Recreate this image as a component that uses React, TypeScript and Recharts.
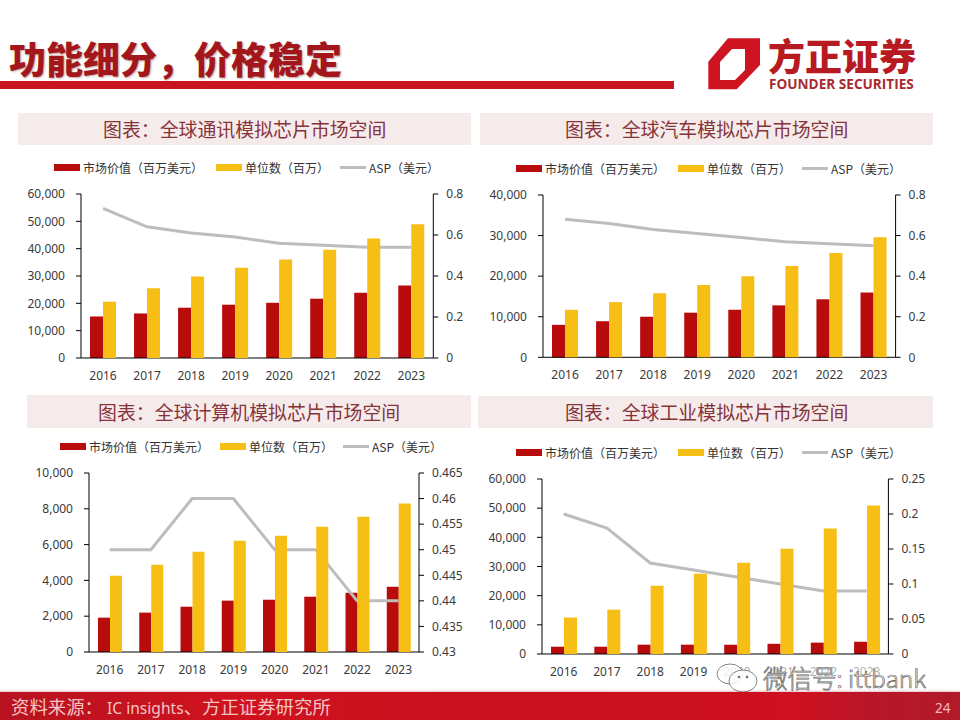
import React from 'react';
import { ComposedChart, Bar, Line, XAxis, YAxis, Legend } from 'recharts';

const years = ['2016', '2017', '2018', '2019', '2020', '2021', '2022', '2023'];

// 通讯
const commValue = [15200, 16300, 18400, 19500, 20200, 21700, 23900, 26500];
const commUnits = [20600, 25500, 29800, 33000, 36000, 39600, 43700, 48900];
const commAsp = [0.73, 0.64, 0.61, 0.59, 0.56, 0.55, 0.54, 0.54];

// 汽车
const autoValue = [8000, 8900, 10000, 11000, 11700, 12800, 14300, 16000];
const autoUnits = [11700, 13600, 15800, 17800, 20000, 22500, 25700, 29600];
const autoAsp = [0.68, 0.66, 0.63, 0.61, 0.59, 0.57, 0.56, 0.55];

// 计算机
const pcValue = [1920, 2200, 2530, 2870, 2920, 3090, 3310, 3650];
const pcUnits = [4260, 4880, 5600, 6220, 6500, 7000, 7560, 8290];
const pcAsp = [0.45, 0.45, 0.46, 0.46, 0.45, 0.45, 0.44, 0.44];

// 工业
const indValue = [2500, 2500, 3200, 3200, 3200, 3500, 3900, 4200];
const indUnits = [12500, 15200, 23400, 27500, 31300, 36100, 43000, 50900];
const indAsp = [0.2, 0.18, 0.13, 0.12, 0.11, 0.1, 0.09, 0.09];

const seriesNames = ['市场价值（百万美元）', '单位数（百万）', 'ASP（美元）'];

const commLeftTicks = [0, 10000, 20000, 30000, 40000, 50000, 60000];
const autoLeftTicks = [0, 10000, 20000, 30000, 40000];
const pcLeftTicks = [0, 2000, 4000, 6000, 8000, 10000];
const indLeftTicks = [0, 10000, 20000, 30000, 40000, 50000, 60000];

const commRightTicks = [0, 0.2, 0.4, 0.6, 0.8];
const autoRightTicks = [0, 0.2, 0.4, 0.6, 0.8];
const pcRightTicks = [0.43, 0.435, 0.44, 0.445, 0.45, 0.455, 0.46, 0.465];
const indRightTicks = [0, 0.05, 0.1, 0.15, 0.2, 0.25];

const SANS = '"Noto Sans", "Noto Sans CJK SC", sans-serif';
const CJK = '"Noto Sans CJK SC", "Noto Sans", sans-serif';

const RED = '#B80C0C';
const YELLOW = '#F7BE16';
const GREY = '#BDBDBD';
const TICK_COLOR = '#3A3A3A';

const makeRows = (value: number[], units: number[], asp: number[]) =>
  years.map((year, i) => ({ year, value: value[i], units: units[i], asp: asp[i] }));

function ChartLegend({ payload, offsets }: any) {
  // series are listed in the reference's order, whatever order they are painted in
  const items = [...(payload || [])].sort((a: any, b: any) => seriesNames.indexOf(a.value) - seriesNames.indexOf(b.value));
  return (
    <div style={{ position: 'relative', height: 14, width: 400, fontFamily: CJK, fontSize: 12, color: '#333' }}>
      {items.map((entry: any, i: number) => {
        const isLine = entry.type === 'line';
        return (
          <div key={entry.value} style={{ position: 'absolute', left: offsets[i], top: 0, height: 14, display: 'flex', alignItems: 'center', whiteSpace: 'nowrap' }}>
            <span style={{ display: 'inline-block', width: 26, height: isLine ? 3 : 7, background: entry.color, marginRight: 3 }} />
            <span>{entry.value}</span>
          </div>
        );
      })}
    </div>
  );
}

interface PanelProps {
  title: string;
  band: [number, number, number, number];
  titleX: number;
  axisLeft: number;
  axisRight: number;
  top: number;
  bottom: number;
  barSize: number;
  legendX: number;
  legendY: number;
  legendOffsets: number[];
  value: number[];
  units: number[];
  asp: number[];
  leftTicks: number[];
  rightTicks: number[];
}

function Panel(p: PanelProps) {
  const chartLeft = p.axisLeft - 70;
  const chartTop = p.top - 40;
  const leftWidth = 70;
  const rightWidth = 50;
  const width = p.axisRight - p.axisLeft + leftWidth + rightWidth;
  const height = p.bottom - p.top + 40 + 32;
  const rightDomain = [p.rightTicks[0], p.rightTicks[p.rightTicks.length - 1]];
  const leftDomain = [p.leftTicks[0], p.leftTicks[p.leftTicks.length - 1]];
  return (
    <>
      <div style={{ position: 'absolute', left: p.band[0], top: p.band[1], width: p.band[2], height: p.band[3], background: '#F6EBEB' }} />
      <div style={{ position: 'absolute', left: p.titleX, top: p.band[1], height: p.band[3], lineHeight: `${p.band[3]}px`, fontFamily: CJK, fontSize: 18.9, color: '#86333A', whiteSpace: 'nowrap' }}>
        {p.title}
      </div>
      <div style={{ position: 'absolute', left: chartLeft, top: chartTop }}>
        <ComposedChart
          width={width}
          height={height}
          data={makeRows(p.value, p.units, p.asp)}
          margin={{ top: 26, right: 0, bottom: 0, left: 0 }}
          barGap={0}
          barSize={p.barSize}
        >
          <XAxis
            dataKey="year"
            height={32}
            axisLine={{ stroke: '#000' }}
            tickLine={false}
            tickMargin={7}
            interval={0}
            tick={{ fontSize: 12, fontFamily: SANS, fill: TICK_COLOR }}
          />
          <YAxis
            yAxisId="left"
            width={leftWidth}
            domain={leftDomain}
            ticks={p.leftTicks}
            interval={0}
            axisLine={{ stroke: '#000' }}
            tickLine={{ stroke: '#000' }}
            tickSize={5}
            tickMargin={11}
            tickFormatter={(v: number) => v.toLocaleString('en-US')}
            tick={{ fontSize: 12, fontFamily: SANS, fill: TICK_COLOR }}
          />
          <YAxis
            yAxisId="right"
            orientation="right"
            width={rightWidth}
            domain={rightDomain}
            ticks={p.rightTicks}
            interval={0}
            axisLine={{ stroke: '#000' }}
            tickLine={{ stroke: '#000' }}
            tickSize={5}
            tickMargin={8}
            tickFormatter={(v: number) => String(v)}
            tick={{ fontSize: 12, fontFamily: SANS, fill: TICK_COLOR }}
          />
          <Legend
            layout="horizontal"
            align="left"
            verticalAlign="top"
            wrapperStyle={{ position: 'absolute', left: p.legendX - chartLeft, top: p.legendY - chartTop, width: 400 }}
            content={(props: any) => <ChartLegend payload={props.payload} offsets={p.legendOffsets} />}
          />
          <Bar yAxisId="left" dataKey="value" name={seriesNames[0]} fill={RED} isAnimationActive={false} />
          <Line yAxisId="right" dataKey="asp" name={seriesNames[2]} type="linear" stroke={GREY} strokeWidth={3} dot={false} isAnimationActive={false} />
          <Bar yAxisId="left" dataKey="units" name={seriesNames[1]} fill={YELLOW} isAnimationActive={false} zIndex={500} />
        </ComposedChart>
      </div>
    </>
  );
}

export default function App() {
  return (
    <div style={{ position: 'absolute', left: 0, top: 0, width: 960, height: 720, background: '#fff', overflow: 'hidden' }}>
      <div style={{ position: 'absolute', left: 9, top: 32, fontFamily: CJK, fontWeight: 900, fontSize: 37, lineHeight: '52px', color: '#A3171C', textShadow: '1px 1px 2px rgba(120,60,60,0.45)', whiteSpace: 'nowrap' }}>
        功能细分，价格稳定
      </div>
      <div style={{ position: 'absolute', left: 0, top: 81, width: 674, height: 8, background: '#C8141E' }} />

      <svg style={{ position: 'absolute', left: 0, top: 0 }} width={960} height={100}>
        <path
          fillRule="evenodd"
          fill="#CE1420"
          d="M708.3 61.7 L728 38.3 L760 38.3 L760 65 L736.7 89.3 L708.3 89.3 Z M720 62 L720 80 L735 80 L745 70 L745 49 L732 49 Z"
        />
      </svg>
      <div style={{ position: 'absolute', left: 768, top: 33, fontFamily: CJK, fontWeight: 900, fontSize: 37, lineHeight: '44px', color: '#B81A22', whiteSpace: 'nowrap' }}>
        方正证券
      </div>
      <div style={{ position: 'absolute', left: 769, top: 76, fontFamily: '"Open Sans", sans-serif', fontWeight: 700, fontSize: 13.6, lineHeight: '16px', color: '#A82A30', whiteSpace: 'nowrap' }}>
        FOUNDER SECURITIES
      </div>

      <Panel
        title="图表：全球通讯模拟芯片市场空间"
        band={[18, 113, 453, 32]}
        titleX={103}
        axisLeft={80.7}
        axisRight={433}
        top={194.3}
        bottom={358.3}
        barSize={13}
        legendX={54}
        legendY={161}
        legendOffsets={[0, 162, 286]}
        value={commValue}
        units={commUnits}
        asp={commAsp}
        leftTicks={commLeftTicks}
        rightTicks={commRightTicks}
      />
      <Panel
        title="图表：全球汽车模拟芯片市场空间"
        band={[480, 113, 453, 32]}
        titleX={565}
        axisLeft={542.7}
        axisRight={895.3}
        top={195}
        bottom={357.3}
        barSize={13}
        legendX={516}
        legendY={161}
        legendOffsets={[0, 162, 286]}
        value={autoValue}
        units={autoUnits}
        asp={autoAsp}
        leftTicks={autoLeftTicks}
        rightTicks={autoRightTicks}
      />
      <Panel
        title="图表：全球计算机模拟芯片市场空间"
        band={[27, 395, 444, 33]}
        titleX={98}
        axisLeft={89.3}
        axisRight={419.3}
        top={473.3}
        bottom={652.3}
        barSize={12}
        legendX={60}
        legendY={440}
        legendOffsets={[0, 160, 283]}
        value={pcValue}
        units={pcUnits}
        asp={pcAsp}
        leftTicks={pcLeftTicks}
        rightTicks={pcRightTicks}
      />
      <Panel
        title="图表：全球工业模拟芯片市场空间"
        band={[478, 396, 455, 32]}
        titleX={565}
        axisLeft={542.3}
        axisRight={888.7}
        top={479.3}
        bottom={654.3}
        barSize={13}
        legendX={516}
        legendY={446}
        legendOffsets={[0, 162, 286]}
        value={indValue}
        units={indUnits}
        asp={indAsp}
        leftTicks={indLeftTicks}
        rightTicks={indRightTicks}
      />

      {/* wechat watermark over the x labels of the last chart */}
      <div style={{ position: 'absolute', left: 722, top: 664, width: 190, height: 26, background: 'rgba(255,255,255,0.6)' }} />
      <svg style={{ position: 'absolute', left: 715, top: 660 }} width={50} height={36} fill="none" stroke="#666" strokeWidth={0.8}>
        <ellipse cx={15} cy={14} rx={13} ry={10} fill="rgba(255,255,255,0.75)" />
        <ellipse cx={28} cy={21} rx={14} ry={11} fill="rgba(255,255,255,0.85)" />
        <circle cx={24} cy={17} r={1} fill="#666" />
        <circle cx={32} cy={17} r={1} fill="#666" />
      </svg>
      <div style={{ position: 'absolute', left: 763, top: 661, height: 34, lineHeight: '34px', fontFamily: CJK, fontWeight: 300, fontSize: 24.5, color: 'rgba(255,255,255,0.8)', WebkitTextStroke: '0.7px #666', whiteSpace: 'nowrap' }}>
        微信号: ittbank
      </div>

      <div style={{ position: 'absolute', left: 0, top: 692, width: 960, height: 28, background: 'linear-gradient(90deg, #B81220 0%, #D0121E 25%, #C8101E 50%, #CE1020 83%, #B91628 90%, #B01A2A 100%)', boxShadow: '0 -1px 2px rgba(200,60,70,0.35)' }} />
      <div style={{ position: 'absolute', left: 11, top: 692, height: 28, lineHeight: '28px', fontFamily: CJK, fontSize: 18.4, color: '#F3C4C4', whiteSpace: 'nowrap' }}>
        资料来源：<span style={{ fontFamily: SANS, fontSize: 15.6, marginLeft: 4 }}>IC insights</span>、方正证券研究所
      </div>
      <div style={{ position: 'absolute', left: 935, top: 697, height: 22, lineHeight: '22px', fontFamily: SANS, fontSize: 13.5, color: '#F0BCBC' }}>
        24
      </div>
    </div>
  );
}
